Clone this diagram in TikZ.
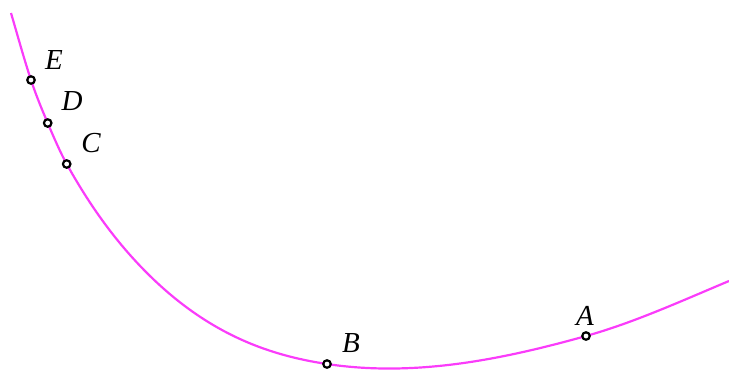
\documentclass[tikz,border=0pt]{standalone}
\usepackage{fontspec}
\setmainfont{Liberation Serif}
\usepackage{xcolor}
\usepackage{tikz}
\definecolor{figcurve}{RGB}{250,60,250}
\definecolor{figline}{RGB}{0,0,0}
\tikzset{
  crv/.style ={draw=figcurve, line width=1.25pt},
  pt/.style  ={circle, draw=figline, fill=white, line width=1.25pt, minimum size=0.15cm, inner sep=0pt},
  lab/.style ={font=\fontsize{16.5}{19}\selectfont\itshape, inner sep=1pt},
}
\begin{document}
\begin{tikzpicture}[x=0.02cm, y=-0.02cm]
  \useasboundingbox (0,0) rectangle (729,369);
  \coordinate (top) at (11,13);
  \coordinate (pE) at (31,80);
  \coordinate (pD) at (47.7,123);
  \coordinate (pC) at (66.7,164);
  \coordinate (mid) at (147,273);
  \coordinate (pB) at (327,364);
  \coordinate (pA) at (586,336);
  \coordinate (rgt) at (729,281);
  % the curve, piece by piece
  \draw[crv] (top) .. controls (17.67,35.7) and (24.33,60) .. (pE)
    .. controls (36.57,96.7) and (42.13,109.9) .. (pD)
    .. controls (54.03,137.9) and (60.37,152.6) .. (pC)
    .. controls (93.47,212.2) and (120.23,246.2) .. (mid)
    .. controls (207,333) and (267,355) .. (pB)
    .. controls (413.3,377) and (499.7,360.2) .. (pA)
    .. controls (633.67,322.7) and (681.33,301) .. (rgt);
  % points on the curve
  \node[pt] (ptA) at (pA) {};
  \node[pt] (ptB) at (pB) {};
  \node[pt] (ptC) at (pC) {};
  \node[pt] (ptD) at (pD) {};
  \node[pt] (ptE) at (pE) {};
  \node[lab] (labA) at (585,316) {A};
  \node[lab] (labB) at (351,343) {B};
  \node[lab] (labC) at (91,143) {C};
  \node[lab] (labD) at (72,101) {D};
  \node[lab] (labE) at (54,60) {E};
\end{tikzpicture}
\end{document}
